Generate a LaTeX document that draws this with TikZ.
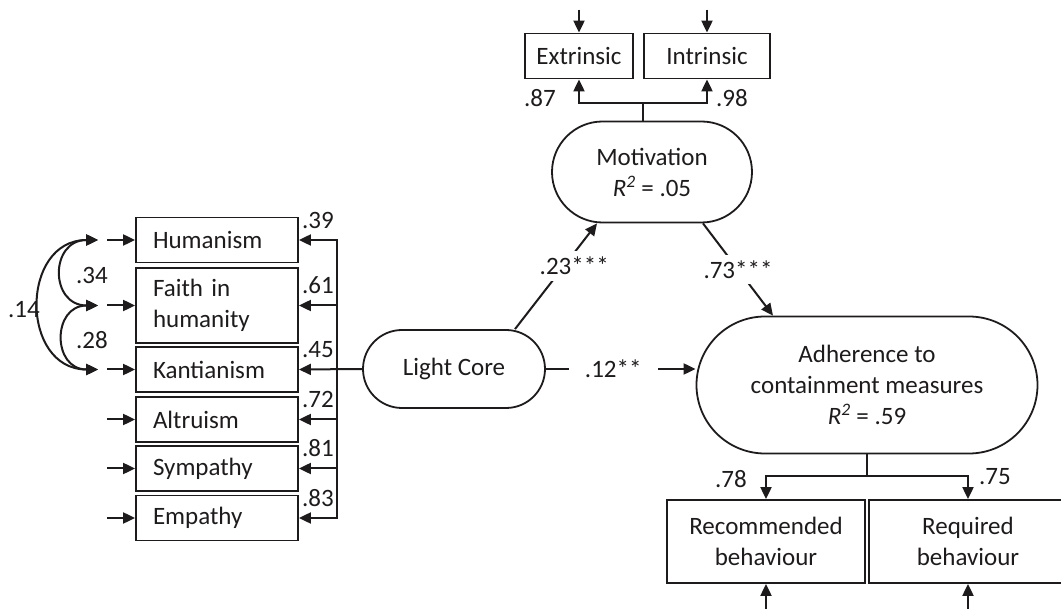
\documentclass[tikz,border=0pt]{standalone}
\usepackage{fontspec}
\setmainfont{Carlito}
\usepackage{xcolor}
\usetikzlibrary{shapes.misc,arrows.meta}
\definecolor{ink}{RGB}{30,27,28}
\newcommand{\Rsq}{\textit{R\textsuperscript{2}}}
\tikzset{
  ind/.style={draw,rectangle,line width=1.8pt,minimum height=45pt,inner sep=0pt,align=center},
  lft/.style={ind,minimum width=162pt,text width=128pt,align=left},
  lat/.style={draw,rounded rectangle,line width=1.8pt,inner sep=0pt,align=center},
  ln/.style={line width=2pt},
  arr/.style={ln,-{Triangle[length=12pt,width=11pt]}},
  cor/.style={ln,{Triangle[length=12pt,width=11pt]}-{Triangle[length=12pt,width=11pt]}},
  lbl/.style={fill=white,inner sep=6pt},
}

\begin{document}
\begin{tikzpicture}[x=1pt,y=-1pt,font=\fontsize{25}{31}\selectfont,color=ink]
            \useasboundingbox (0,0) rectangle (1061,609);
            % light core facets
            \node[lft] (hum) at (217,240) {Humanism};
            \node[lft,minimum height=75pt] (fai) at (217,305.5) {Faith in\\humanity};
            \node[lft] (kan) at (217,369.5) {Kantianism};
            \node[lft] (alt) at (217,419.5) {Altruism};
            \node[lft] (sym) at (217,468.5) {Sympathy};
            \node[lft] (emp) at (217,518) {Empathy};
            % latent variables
            \node[lat,minimum width=182pt,minimum height=78pt] (lc) at (454,369) {Light Core};
            \node[lat,minimum width=200pt,minimum height=101pt] (mot) at (652,172) {Motivation\\\Rsq{} = .05};
            \node[lat,minimum width=341pt,minimum height=137pt] (adh) at (867,385) {Adherence to\\containment measures\\\Rsq{} = .59};
            % indicators
            \node[ind,minimum width=108pt] (ext) at (579,56) {Extrinsic};
            \node[ind,minimum width=126pt] (int) at (707,56) {Intrinsic};
            \node[ind,minimum width=198pt,minimum height=83pt] (rec) at (766,541.5) {Recommended\\behaviour};
            \node[ind,minimum width=198pt,minimum height=83pt] (req) at (968,541.5) {Required\\behaviour};
            % measurement of the light core
            \coordinate (bus) at (337,369);
            \draw[arr] (lc.west) -- (kan.east);
            \foreach \b in {hum,fai,alt,sym,emp} \draw[arr] (bus) |- (\b.east);
            \foreach \b in {hum,fai,kan,alt,sym,emp} \draw[arr] ([xshift=-28pt]\b.west) -- (\b.west);
            \foreach \b/\v in {hum/.39,fai/.61,kan/.45,alt/.72,sym/.81,emp/.83}
                \node (l\b) at ([xshift=19pt,yshift=20pt]\b.east) {\v};
            \draw[cor] ([xshift=-37pt]hum.west) to[out=180,in=180,looseness=1.9] ([xshift=-37pt]fai.west);
            \draw[cor] ([xshift=-37pt]fai.west) to[out=180,in=180,looseness=1.85] ([xshift=-37pt]kan.west);
            \draw[cor] ([xshift=-37pt]hum.west) to[out=180,in=180,looseness=1.55] ([xshift=-37pt]kan.west);
            \node (c34) at (92,275) {.34};
            \node (c28) at (92,340) {.28};
            \node (c14) at (24,310) {.14};
            % structural paths
            \draw[arr] ([xshift=61pt]lc.north) -- node[lbl,pos=0.6,xshift=10pt] {.23***} ([xshift=-55pt]mot.south);
            \draw[arr] ([xshift=51pt]mot.south) -- node[lbl] {.73***} ([xshift=-94pt]adh.north);
            \draw[arr] (lc.east) -- node[lbl,pos=0.45,inner xsep=16pt] {.12**} (lc.east -| adh.west);
            % motivation indicators
            \coordinate (mfk) at (643,103);
            \draw[ln] (mfk |- mot.north) -- (mfk);
            \draw[arr] (mfk) -| (ext.south);
            \draw[arr] (mfk) -| (int.south);
            \foreach \b in {ext,int} \draw[arr] ([yshift=23pt]\b.north) -- (\b.north);
            \node (l87) at (540,98) {.87};
            \node (l98) at (732,98) {.98};
            % adherence indicators
            \coordinate (afk) at (867,476);
            \draw[ln] (adh.south) -- (afk);
            \draw[arr] (afk) -| (rec.north);
            \draw[arr] (afk) -| (req.north);
            \foreach \b in {rec,req} \draw[arr] ([yshift=-27pt]\b.south) -- (\b.south);
            \node (l78) at (731,479) {.78};
            \node (l75) at (995,477) {.75};
        \end{tikzpicture}
\end{document}
